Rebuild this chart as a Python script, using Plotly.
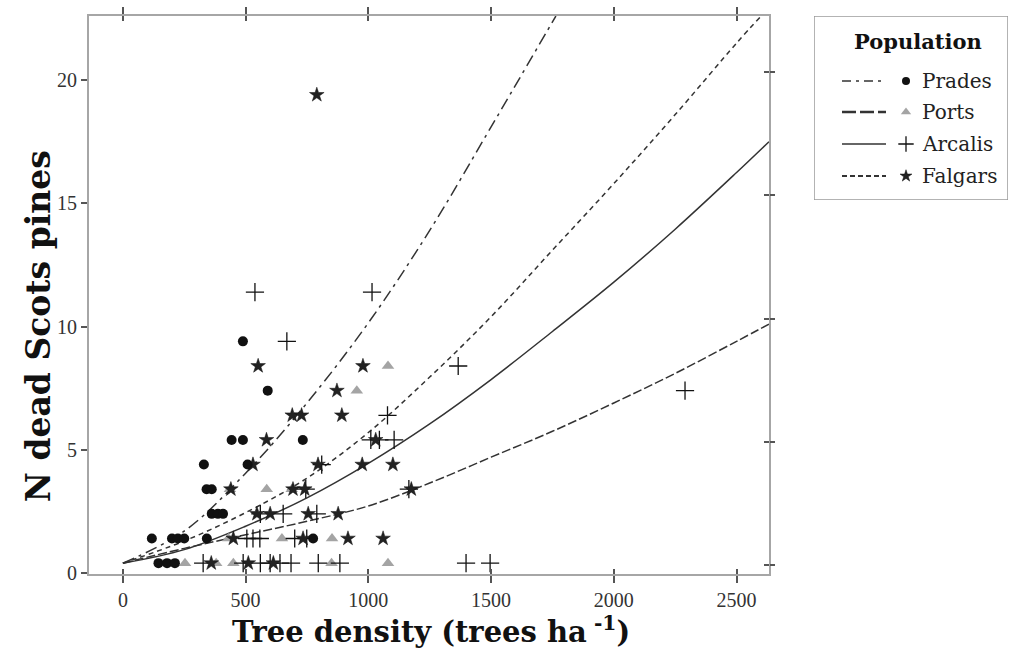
import plotly.graph_objects as go

# ---------------- data ----------------
prades_x = [145, 180, 212, 118, 200, 224, 250, 342, 775, 362, 387, 408, 341, 362,
            330, 508, 443, 489, 733, 590, 489]
prades_y = [0.4, 0.4, 0.4, 1.4, 1.4, 1.4, 1.4, 1.4, 1.4, 2.4, 2.4, 2.4, 3.4, 3.4,
            4.4, 4.4, 5.4, 5.4, 5.4, 7.4, 9.4]

ports_x = [253, 380, 450, 850, 1080, 430, 648, 852, 436, 586, 688, 953, 1080]
ports_y = [0.4, 0.4, 0.4, 0.4, 0.4, 1.4, 1.4, 1.4, 3.4, 3.4, 3.4, 7.4, 8.4]

arcalis_x = [327, 490, 560, 600, 640, 685, 796, 884, 1398, 1496,
             505, 530, 558, 700, 749, 560, 653, 790, 745, 1165,
             810, 1010, 1045, 1105, 1078, 2290, 1366, 668, 538, 1015]
arcalis_y = [0.4, 0.4, 0.4, 0.4, 0.4, 0.4, 0.4, 0.4, 0.4, 0.4,
             1.4, 1.4, 1.4, 1.4, 1.4, 2.4, 2.4, 2.4, 3.4, 3.4,
             4.4, 5.4, 5.4, 5.4, 6.4, 7.4, 8.4, 9.4, 11.4, 11.4]

falgars_x = [360, 511, 613, 450, 734, 917, 1060, 546, 600, 755, 877,
             440, 693, 741, 1175, 530, 795, 975, 1100, 585, 1030,
             690, 728, 892, 872, 551, 978, 790]
falgars_y = [0.4, 0.4, 0.4, 1.4, 1.4, 1.4, 1.4, 2.4, 2.4, 2.4, 2.4,
             3.4, 3.4, 3.4, 3.4, 4.4, 4.4, 4.4, 4.4, 5.4, 5.4,
             6.4, 6.4, 6.4, 7.4, 8.4, 8.4, 19.4]

# fitted curves
fit_prades_x = [0, 250, 500, 750, 1000, 1250, 1500, 1764]
fit_prades_y = [0.4, 1.7, 4.05, 6.9, 10.15, 13.9, 18.1, 22.6]
fit_falgars_x = [0, 250, 500, 750, 1000, 1250, 1500, 1750, 2000, 2250, 2500, 2600]
fit_falgars_y = [0.4, 1.3, 2.45, 3.85, 5.7, 7.95, 10.4, 13.1, 15.8, 18.6, 21.5, 22.6]
fit_arcalis_x = [0, 250, 500, 750, 1000, 1250, 1500, 1750, 2000, 2250, 2500, 2632]
fit_arcalis_y = [0.4, 0.95, 1.9, 3.05, 4.45, 6.05, 7.85, 9.8, 11.8, 13.95, 16.25, 17.5]
fit_ports_x = [0, 250, 500, 750, 1000, 1250, 1500, 1750, 2000, 2250, 2500, 2632]
fit_ports_y = [0.4, 1.0, 1.55, 2.1, 2.72, 3.65, 4.7, 5.75, 6.9, 8.1, 9.4, 10.1]

x_ticks = [0, 500, 1000, 1500, 2000, 2500]
y_ticks = [0, 5, 10, 15, 20]

populations = ["Prades", "Ports", "Arcalis", "Falgars"]

# ---------------- styles ----------------
LINE_COL = "#333333"
AX_COL = "#a6a6a6"
TICK_COL = "#555555"
dash_styles = {"Prades": "12px,5px,3px,5px", "Ports": "9px,3px",
               "Arcalis": "solid", "Falgars": "5px,4px"}
legend_dash = {"Prades": "9px,5px,3px,5px", "Ports": "14px,4px",
               "Arcalis": "solid", "Falgars": "5px,3px"}
legend_width = {"Prades": 1.4, "Ports": 2.4, "Arcalis": 1.6, "Falgars": 1.8}
marker_styles = {
    "Prades": dict(symbol="circle", size=10, color="#111111"),
    "Ports": dict(symbol="triangle-up", size=11, color="#a4a4a4"),
    "Arcalis": dict(symbol="cross-thin", size=13, color="#111111",
                    line=dict(color="#111111", width=1.3)),
    "Falgars": dict(symbol="star", size=11, color="#222222",
                    line=dict(color="#111111", width=0.5)),
}

fig = go.Figure()

fits = {"Prades": (fit_prades_x, fit_prades_y), "Ports": (fit_ports_x, fit_ports_y),
        "Arcalis": (fit_arcalis_x, fit_arcalis_y), "Falgars": (fit_falgars_x, fit_falgars_y)}
pts = {"Prades": (prades_x, prades_y), "Ports": (ports_x, ports_y),
       "Arcalis": (arcalis_x, arcalis_y), "Falgars": (falgars_x, falgars_y)}

for p in populations:
    fx, fy = fits[p]
    fig.add_trace(go.Scatter(x=fx, y=fy, mode="lines", showlegend=False,
                             line=dict(color=LINE_COL, width=1.5, dash=dash_styles[p],
                                       shape="spline", smoothing=1.0),
                             hoverinfo="skip", cliponaxis=True))
for p in ["Ports", "Arcalis", "Falgars", "Prades"]:
    px_, py_ = pts[p]
    fig.add_trace(go.Scatter(x=px_, y=py_, mode="markers", name=p, showlegend=False,
                             marker=marker_styles[p], cliponaxis=False))

# ---------------- custom legend (on its own pixel-like axes) ----------------
leg_rows = {"Prades": 81, "Ports": 112, "Arcalis": 144, "Falgars": 176}
for p in populations:
    yy = leg_rows[p]
    fig.add_trace(go.Scatter(x=[842, 886], y=[yy, yy], mode="lines", xaxis="x4", yaxis="y4",
                             showlegend=False, hoverinfo="skip",
                             line=dict(color=LINE_COL, width=legend_width[p], dash=legend_dash[p])))
    ms = dict(marker_styles[p])
    ms["size"] = ms["size"] - 2
    fig.add_trace(go.Scatter(x=[906], y=[yy], mode="markers", xaxis="x4", yaxis="y4",
                             showlegend=False, hoverinfo="skip", marker=ms))

annotations = []
for p in populations:
    annotations.append(dict(x=920, y=leg_rows[p], xref="x4", yref="y4", text=p,
                            showarrow=False, xanchor="left", yanchor="middle",
                            font=dict(family="DejaVu Serif", size=20, color="#222")))
annotations.append(dict(x=918, y=41, xref="x4", yref="y4", text="<b>Population</b>",
                        showarrow=False, xanchor="center", yanchor="middle",
                        font=dict(family="DejaVu Serif", size=21, color="#111")))
annotations.append(dict(x=-0.0555, y=0.444, xref="paper", yref="paper",
                        text="<b>N dead Scots pines</b>", textangle=-90, showarrow=False,
                        xanchor="center", yanchor="middle",
                        font=dict(family="DejaVu Serif", size=33, color="#111")))
annotations.append(dict(x=0.372, y=-0.100, xref="paper", yref="paper",
                        text="<b>Tree density (trees ha<sup> -1</sup>)</b>", showarrow=False,
                        xanchor="center", yanchor="middle",
                        font=dict(family="DejaVu Serif", size=29, color="#111")))

shapes = [dict(type="rect", xref="x4", yref="y4", x0=814, x1=1008, y0=16, y1=200,
               line=dict(color="#9a9a9a", width=1.5), fillcolor="rgba(0,0,0,0)")]

XR = [-138, 2632]
YR = [-0.04, 22.6]
YR2 = [YR[0] - 0.32, YR[1] - 0.32]
XD = [0, 0.7399]
tickfont = dict(family="Liberation Serif", size=20, color="#333")

fig.update_layout(
    width=1018, height=666,
    margin=dict(l=89, r=10, t=16, b=92),
    paper_bgcolor="white", plot_bgcolor="white",
    showlegend=False,
    xaxis=dict(domain=XD, range=XR, tickvals=x_ticks, ticks="outside", ticklen=7,
               tickwidth=1.5, tickcolor=TICK_COL, showline=True, linecolor=AX_COL,
               linewidth=2, mirror="ticks", showgrid=False, zeroline=False,
               tickfont=tickfont, automargin=False),
    xaxis2=dict(domain=XD, range=XR, overlaying="x", anchor="y", tickvals=x_ticks,
                ticks="inside", ticklen=5, tickwidth=1.5, tickcolor=TICK_COL,
                showticklabels=False, showline=False, mirror="ticks",
                showgrid=False, zeroline=False, automargin=False),
    yaxis=dict(range=YR, tickvals=y_ticks, ticks="outside", ticklen=6, tickwidth=1.5,
               tickcolor=TICK_COL, showline=True, linecolor=AX_COL, linewidth=2,
               mirror=True, showgrid=False, zeroline=False, tickfont=tickfont,
               automargin=False),
    yaxis2=dict(range=YR2, overlaying="y", side="right", anchor="x", tickvals=y_ticks,
                ticks="outside", ticklen=5, tickwidth=1.5, tickcolor=TICK_COL,
                showticklabels=False, showline=False, showgrid=False, zeroline=False,
                automargin=False),
    yaxis3=dict(range=YR2, overlaying="y", side="right", anchor="x", tickvals=y_ticks,
                ticks="inside", ticklen=5, tickwidth=1.5, tickcolor=TICK_COL,
                showticklabels=False, showline=False, showgrid=False, zeroline=False,
                automargin=False),
    xaxis4=dict(domain=[(814 - 89) / 919, (1008 - 89) / 919], range=[814, 1008],
                anchor="y4", visible=False, fixedrange=True),
    yaxis4=dict(domain=[(574 - 200) / 558, 1.0], range=[200, 16], anchor="x4",
                visible=False, fixedrange=True),
    annotations=annotations,
    shapes=shapes,
)

# dummy traces so the overlay axes get drawn
fig.add_trace(go.Scatter(x=[None], y=[None], xaxis="x2", yaxis="y", showlegend=False))
fig.add_trace(go.Scatter(x=[None], y=[None], xaxis="x", yaxis="y2", showlegend=False))
fig.add_trace(go.Scatter(x=[None], y=[None], xaxis="x", yaxis="y3", showlegend=False))

fig.write_html("out.html", config={"displayModeBar": False},
               post_script="document.body.style.margin='0';document.body.style.overflow='hidden';")
